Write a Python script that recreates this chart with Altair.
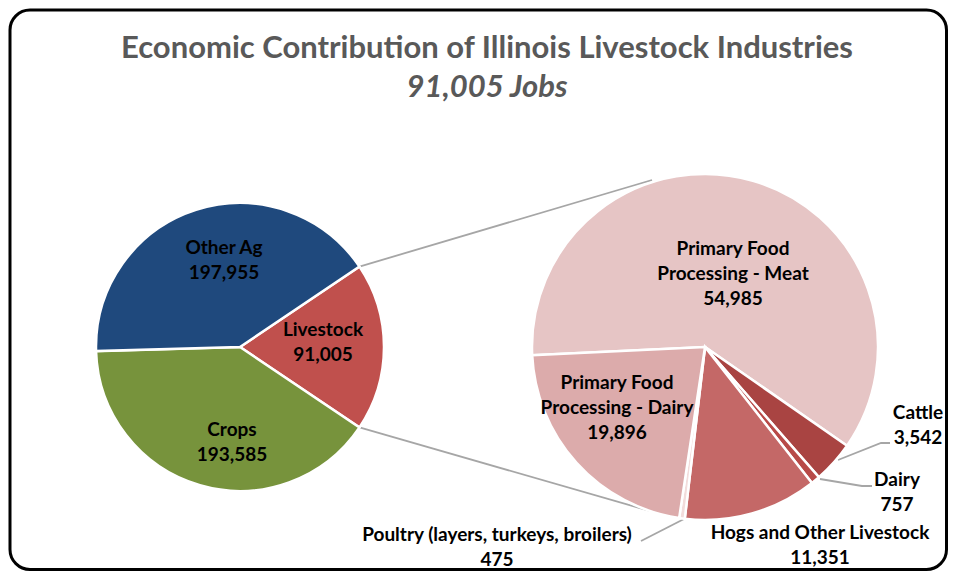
import math
import altair as alt
import pandas as pd

# ---------------- data ----------------
main_categories = ["Livestock", "Crops", "Other Ag"]
main_values = [91005, 193585, 197955]

sub_categories = [
    "Primary Food Processing - Meat",
    "Cattle",
    "Dairy",
    "Hogs and Other Livestock",
    "Poultry (layers, turkeys, broilers)",
    "Primary Food Processing - Dairy",
]
sub_values = [54985, 3542, 757, 11351, 475, 19896]
sub_label_lines = [
    ["Primary Food", "Processing - Meat"],
    ["Cattle"],
    ["Dairy"],
    ["Hogs and Other Livestock"],
    ["Poultry (layers, turkeys, broilers)"],
    ["Primary Food", "Processing - Dairy"],
]
main_label_lines = [["Livestock"], ["Crops"], ["Other Ag"]]

title_text = "Economic Contribution of Illinois Livestock Industries"

# ---------------- styles ----------------
main_colors = ["#c0504d", "#77933c", "#1f497d"]
sub_colors = ["#e6c5c5", "#a94442", "#b84a48", "#c46867", "#f2dcdb", "#dcabab"]

# ---------------- layout (reference pixel coords) ----------------
MARGIN = 8
W, H = 940, 563
LEFT_C, LEFT_R = (240, 347), 144
RIGHT_C, RIGHT_R = (705, 347), 173
RIGHT_START_DEG = 267.3
LINE_H = 25
LABEL_SIZE = 19
main_label_pos = [(323, 330), (232, 430), (224, 248)]
sub_label_pos = [(733, 249), (918, 413), (897, 480), (820, 533), (497, 535), (617, 383)]
leader_lines = {
    "cattle": [(838, 460), (881, 443), (890, 443)],
    "dairy": [(820, 479), (862, 486), (872, 486)],
    "poultry": [(684, 519), (641, 541)],
}
connector_ends = [(652, 180), (650, 511)]

xs = alt.Scale(domain=[MARGIN, MARGIN + W], range=[0, W])
ys = alt.Scale(domain=[MARGIN, MARGIN + H], range=[0, H])

all_cats = main_categories + sub_categories
all_cols = main_colors + sub_colors
color_scale = alt.Scale(domain=all_cats, range=all_cols)

# ---------------- pies ----------------
main_total = sum(main_values)
live_share = main_values[0] / main_total
left_start = math.radians(90) - live_share * math.pi

df_main = pd.DataFrame({"cat": main_categories, "value": main_values,
                        "order": list(range(len(main_values)))})
df_sub = pd.DataFrame({"cat": sub_categories, "value": sub_values,
                       "order": list(range(len(sub_values)))})
sub_total = sum(sub_values)
right_start = math.radians(RIGHT_START_DEG)


def pie(df, total, start, center, r):
    return alt.Chart(df).mark_arc(outerRadius=r, stroke="white", strokeWidth=2.5).encode(
        theta=alt.Theta("value:Q", stack=True,
                        scale=alt.Scale(domain=[0, total], range=[start, start + 2 * math.pi])),
        order=alt.Order("order:Q"),
        color=alt.Color("cat:N", scale=color_scale, legend=None),
        x=alt.value(center[0] - MARGIN),
        y=alt.value(center[1] - MARGIN),
    )


left_pie = pie(df_main, main_total, left_start, LEFT_C, LEFT_R)
right_pie = pie(df_sub, sub_total, right_start, RIGHT_C, RIGHT_R)

# ---------------- lines ----------------
rows = []
a1 = left_start
a2 = left_start + live_share * 2 * math.pi
for i, (ang, end) in enumerate(zip([a1, a2], connector_ends)):
    sx = LEFT_C[0] + LEFT_R * math.sin(ang)
    sy = LEFT_C[1] - LEFT_R * math.cos(ang)
    rows.append({"g": f"c{i}", "o": 0, "x": sx, "y": sy})
    rows.append({"g": f"c{i}", "o": 1, "x": end[0], "y": end[1]})
for name, pts in leader_lines.items():
    for j, (px, py) in enumerate(pts):
        rows.append({"g": name, "o": j, "x": px, "y": py})
df_lines = pd.DataFrame(rows)
lines = alt.Chart(df_lines).mark_line(color="#a6a6a6", strokeWidth=1.8).encode(
    x=alt.X("x:Q", scale=xs, axis=None),
    y=alt.Y("y:Q", scale=ys, axis=None),
    detail="g:N",
    order="o:Q",
)

# ---------------- labels ----------------
lab_rows = []
for lines_, val, (lx, ly) in zip(main_label_lines + sub_label_lines,
                                 main_values + sub_values,
                                 main_label_pos + sub_label_pos):
    texts = lines_ + [f"{val:,}"]
    for k, t in enumerate(texts):
        lab_rows.append({"x": lx, "y": ly + k * LINE_H, "t": t})
df_lab = pd.DataFrame(lab_rows)
labels = alt.Chart(df_lab).mark_text(font="Lato", fontWeight="bold", fontSize=LABEL_SIZE,
                                     color="black", baseline="middle", align="center").encode(
    x=alt.X("x:Q", scale=xs, axis=None),
    y=alt.Y("y:Q", scale=ys, axis=None),
    text="t:N",
)

df_title = pd.DataFrame({"x": [487], "y": [49], "t": [title_text]})
title = alt.Chart(df_title).mark_text(font="Lato", fontWeight="bold", fontSize=31,
                                      color="#595959", baseline="middle").encode(
    x=alt.X("x:Q", scale=xs, axis=None),
    y=alt.Y("y:Q", scale=ys, axis=None),
    text="t:N",
)
df_sub_t = pd.DataFrame({"x": [487], "y": [88], "t": [f"{main_values[0]:,} Jobs"]})
subtitle = alt.Chart(df_sub_t).mark_text(font="Lato", fontWeight="bold", fontStyle="italic",
                                         fontSize=31, color="#595959", baseline="middle").encode(
    x=alt.X("x:Q", scale=xs, axis=None),
    y=alt.Y("y:Q", scale=ys, axis=None),
    text="t:N",
)

frame = alt.Chart(pd.DataFrame({"a": [0]})).mark_rect(
    fillOpacity=0, stroke="black", strokeWidth=3, cornerRadius=20
).encode(
    x=alt.value(10 - MARGIN), x2=alt.value(W - 1.5),
    y=alt.value(10 - MARGIN), y2=alt.value(H - 1.5),
)

chart = alt.layer(frame, lines, left_pie, right_pie, labels, title, subtitle).resolve_scale(
    theta="independent"
).properties(
    width=W, height=H, padding=0, autosize=alt.AutoSizeParams(type="none")
).configure_view(stroke=None)

chart.save("out.html", embed_options={"renderer": "svg", "actions": False})
